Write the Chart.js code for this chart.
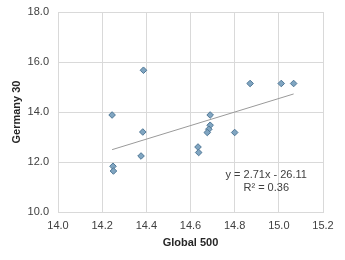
<!DOCTYPE html>
<html>
<head>
<meta charset="utf-8">
<script src="https://cdn.jsdelivr.net/npm/chart.js@4"></script>
<style>
  html, body { margin: 0; padding: 0; background: #fff; }
  #wrap { width: 345px; height: 260px; }
</style>
</head>
<body>
<div id="wrap"><canvas id="scatterChart" width="345" height="260"></canvas></div>
<script>
// Global 500 (x) vs Germany 30 (y)
const global500 = [14.387, 14.245, 14.384, 14.376, 14.249, 14.251, 14.689, 14.689, 14.683, 14.676, 14.80, 14.634, 14.637, 14.870, 15.011, 15.067];
const germany30 = [15.67, 13.88, 13.20, 12.24, 11.83, 11.64, 13.88, 13.47, 13.31, 13.18, 13.18, 12.60, 12.38, 15.14, 15.14, 15.14];
const trendSlope = 2.71;
const trendIntercept = -26.11;
const trendLabels = ['y = 2.71x - 26.11', 'R\u00b2 = 0.36'];

const points = global500.map((x, i) => ({ x: x, y: germany30[i] }));
const xLo = Math.min(...global500);
const xHi = Math.max(...global500);
const trendPoints = [
  { x: xLo, y: trendSlope * xLo + trendIntercept },
  { x: xHi, y: trendSlope * xHi + trendIntercept }
];

const FONT = "'Liberation Sans', Arial, sans-serif";

const equationLabel = {
  id: 'equationLabel',
  afterDatasetsDraw(chart) {
    const { ctx, scales } = chart;
    const cx = scales.x.getPixelForValue(14.943);
    const cy = scales.y.getPixelForValue(11.5);
    ctx.save();
    ctx.font = '11px ' + FONT;
    ctx.fillStyle = '#404040';
    ctx.textAlign = 'center';
    ctx.textBaseline = 'middle';
    ctx.fillText(trendLabels[0], cx, cy);
    ctx.fillText(trendLabels[1], cx, cy + 13.5);
    ctx.restore();
  }
};

const ctx = document.getElementById('scatterChart').getContext('2d');
const chart = new Chart(ctx, {
  type: 'scatter',
  data: {
    datasets: [
      {
        label: 'Germany 30',
        data: points,
        pointStyle: 'rectRot',
        pointRadius: 3.3,
        pointBackgroundColor: '#80a5c1',
        pointBorderColor: '#4f7796',
        pointBorderWidth: 1,
        order: 1
      },
      {
        label: 'Trend',
        type: 'line',
        data: trendPoints,
        borderColor: '#9a9a9a',
        borderWidth: 1,
        pointRadius: 0,
        fill: false,
        order: 2
      }
    ]
  },
  options: {
    responsive: false,
    animation: false,
    layout: { padding: { left: 0, right: 22, top: 12, bottom: 0 } },
    plugins: {
      legend: { display: false },
      tooltip: { enabled: false }
    },
    scales: {
      x: {
        type: 'linear',
        min: 14,
        max: 15.2,
        ticks: {
          stepSize: 0.2,
          padding: 7,
          color: '#404040',
          font: { family: FONT, size: 11 },
          callback: v => v.toFixed(1)
        },
        grid: { color: '#d9d9d9', tickLength: 0 },
        border: { color: '#d9d9d9' },
        title: {
          display: true,
          text: 'Global 500',
          color: '#262626',
          font: { family: FONT, size: 11, weight: 'bold' },
          padding: { top: 4, bottom: 10 }
        },
        afterFit: s => {
          s.height = 48;
          s.paddingLeft = 0;
          s.paddingRight = 0;
        }
      },
      y: {
        min: 10,
        max: 18,
        ticks: {
          stepSize: 2,
          padding: 9,
          color: '#404040',
          font: { family: FONT, size: 11 },
          callback: v => v.toFixed(1)
        },
        grid: { color: '#d9d9d9', tickLength: 0 },
        border: { color: '#d9d9d9' },
        title: {
          display: true,
          text: 'Germany 30',
          color: '#262626',
          font: { family: FONT, size: 11, weight: 'bold' },
          padding: { top: 10, bottom: 4 }
        },
        afterFit: s => {
          s.width = 58;
          s.paddingTop = 0;
          s.paddingBottom = 0;
        }
      }
    }
  },
  plugins: [equationLabel]
});
</script>
</body>
</html>
